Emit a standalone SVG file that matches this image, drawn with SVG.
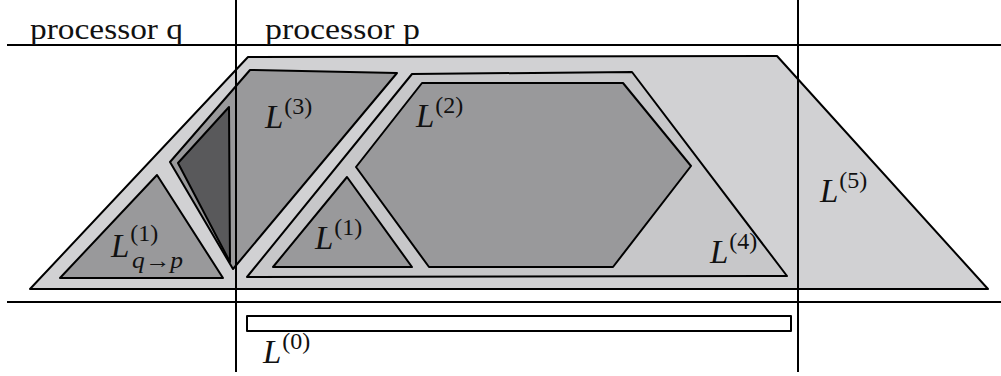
<svg xmlns="http://www.w3.org/2000/svg" width="1001" height="376" viewBox="0 0 1001 376">
<style>
.sh{stroke:#000;stroke-width:2;stroke-linejoin:round}
.l5{fill:#d1d1d3}
.l4{fill:#c7c7c9}
.mid{fill:#99999b}
.dark{fill:#59595b}
.grid{stroke:#000;stroke-width:2;fill:none}
.t{font-family:"Liberation Serif",serif;font-size:29px;fill:#111}
.L{font-family:"Liberation Serif",serif;font-style:italic;font-size:33px;fill:#111}
.sup{font-family:"Liberation Serif",serif;font-style:normal;font-size:24px}
</style>
<rect width="1001" height="376" fill="#fff"/>
<g id="L5"><polygon class="sh l5" points="30,289 248,57 777,56 988,289"/><text class="L" x="820" y="202">L<tspan class="sup" dx="1" dy="-14">(5)</tspan></text></g>
<g id="L4"><polygon class="sh l4" points="247,277 412,74 632,72 787,276"/><text class="L" x="710" y="263">L<tspan class="sup" dx="1" dy="-14">(4)</tspan></text></g>
<g id="L2"><polygon class="sh mid" points="422,83 623,83 691,166 613,267 429,267 356,167"/><text class="L" x="416" y="127">L<tspan class="sup" dx="1" dy="-14">(2)</tspan></text></g>
<g id="L1"><polygon class="sh mid" points="347,177 412,267 273,267"/><text class="L" x="315" y="249">L<tspan class="sup" dx="1" dy="-14">(1)</tspan></text></g>
<g id="L3"><polygon class="sh mid" points="250,70 397,73 233,269 170,162"/><polygon class="sh dark" points="178,163 229,107 230,262"/><text class="L" x="265" y="128">L<tspan class="sup" dx="1" dy="-14">(3)</tspan></text></g>
<g id="Lqp"><polygon class="sh mid" points="157,175 223,278 60,278"/><text class="L" x="111" y="257">L<tspan class="sup" dx="1" dy="-16">(1)</tspan></text><text x="132" y="268" textLength="51" lengthAdjust="spacingAndGlyphs" style="font-family:'Liberation Serif',serif;font-size:23px;fill:#111"><tspan font-style="italic">q</tspan>→<tspan font-style="italic">p</tspan></text></g>
<g id="L0"><rect class="sh" x="247" y="316" width="544" height="15" fill="#fff"/><text class="L" x="263" y="363">L<tspan class="sup" dx="1" dy="-14">(0)</tspan></text></g>
<g id="connectors">
<line class="grid" x1="7" y1="45" x2="1001" y2="45"/>
<line class="grid" x1="7" y1="302" x2="1001" y2="302"/>
<line class="grid" x1="236" y1="0" x2="236" y2="372"/>
<line class="grid" x1="798" y1="0" x2="798" y2="372"/>
</g>
<g id="labels">
<text class="t" x="30" y="39" textLength="153" lengthAdjust="spacingAndGlyphs">processor q</text>
<text class="t" x="265" y="39" textLength="155" lengthAdjust="spacingAndGlyphs">processor p</text>
</g>
</svg>
